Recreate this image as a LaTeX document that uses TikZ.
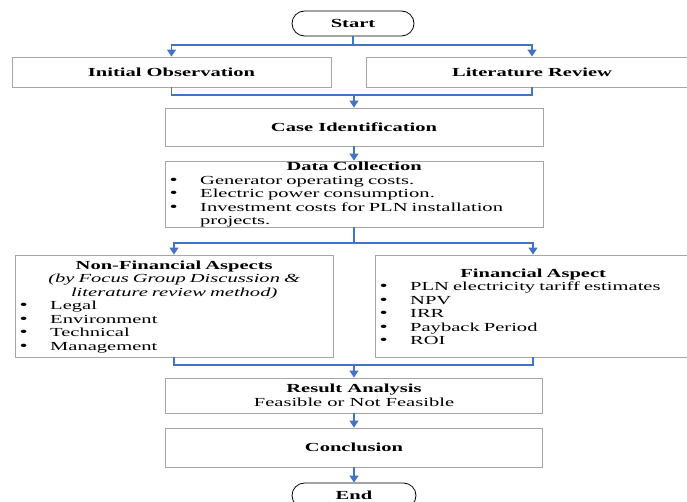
\documentclass[tikz,border=0pt]{standalone}
\usepackage{fontspec}
\setmainfont[FakeStretch=1.67]{Liberation Serif}
\usetikzlibrary{arrows.meta}
\definecolor{connblue}{HTML}{4472C4}
\definecolor{boxgray}{HTML}{A6A6A6}
\newcommand\bitem[1]{\par\noindent\hangindent=35pt\hangafter=1\makebox[35pt][l]{\hspace{4.5pt}{\fontsize{14}{13.5}\selectfont\smash{\textbullet}}}#1\par}
\begin{document}
\begin{tikzpicture}[x=1pt,y=-1pt,
  box/.style={draw=boxgray,line width=0.9pt,inner sep=0pt,align=center,
    font=\fontsize{12.3}{13.5}\selectfont\bfseries},
  term/.style={draw=black,line width=0.8pt,rounded corners=12.5pt,minimum width=122pt,
    minimum height=25pt,inner sep=0pt,font=\fontsize{12.3}{13.5}\selectfont\bfseries},
  link/.style={draw=connblue,line width=1.4pt},
  arr/.style={link,-{Triangle[width=9pt,length=7pt]}},
  txt/.style={inner sep=0pt,anchor=north west,align=left,font=\fontsize{12.3}{13.5}\selectfont}
]
\useasboundingbox (0,0) rectangle (687,502);
\clip (0,0) rectangle (687,502);
% terminals
\node[term] (start) at (353,23.5) {Start};
\node[term,minimum width=124pt] (en) at (354,495.5) {End};
% boxes
\node[box,minimum width=319pt,minimum height=30pt] (io) at (171.5,72) {Initial Observation};
\node[box,minimum width=332pt,minimum height=30pt] (lr) at (532,72) {Literature Review};
\node[box,minimum width=378pt,minimum height=38pt] (ci) at (354,127) {Case Identification};
\node[box,minimum width=378pt,minimum height=66pt] (dc) at (354,194) {};
\node[box,minimum width=318pt,minimum height=102pt] (nf) at (174,306) {};
\node[box,minimum width=316pt,minimum height=102pt] (fa) at (533,306) {};
\node[box,minimum width=377pt,minimum height=35pt] (ra) at (354,395.5)
  {Result Analysis\\{\mdseries Feasible or Not Feasible}};
\node[box,minimum width=377pt,minimum height=39pt] (co) at (354,447.5) {Conclusion};
% box contents
\node[txt,text width=378pt] (dctext) at (165,161) {%
  {\centering\bfseries\strut Data Collection\par}%
  \bitem{Generator operating costs.}%
  \bitem{Electric power consumption.}%
  \bitem{Investment costs for PLN installation\newline projects.}};
\node[txt,text width=318pt] (nftext) at (15,259.5) {%
  {\centering\bfseries\strut Non-Financial Aspects\par}%
  {\centering\itshape (by Focus Group Discussion \&\par literature review method)\par}%
  \bitem{Legal}\bitem{Environment}\bitem{Technical}\bitem{Management}};
\node[txt,text width=316pt] (fatext) at (375,267.5) {%
  {\centering\bfseries\strut Financial Aspect\par}%
  \bitem{PLN electricity tariff estimates}\bitem{NPV}\bitem{IRR}%
  \bitem{Payback Period}\bitem{ROI}};
% connectors
\coordinate (j1) at (353,45);
\coordinate (j2) at (354,95);
\coordinate (j3) at (354,243);
\coordinate (j4) at (354,365);
\draw[link] (start.south) -- (j1);
\draw[arr] (j1) -| (io.north);
\draw[arr] (j1) -| (lr.north);
\draw[link] (io.south) |- (j2) -| (lr.south);
\draw[arr] (j2) -- (ci.north);
\draw[arr] (ci.south) -- (dc.north);
\draw[link] (dc.south) -- (j3);
\draw[arr] (j3) -| (nf.north);
\draw[arr] (j3) -| (fa.north);
\draw[link] (nf.south) |- (j4) -| (fa.south);
\draw[arr] (j4) -- (ra.north);
\draw[arr] (ra.south) -- (co.north);
\draw[arr] (co.south) -- (en.north);
\end{tikzpicture}
\end{document}
